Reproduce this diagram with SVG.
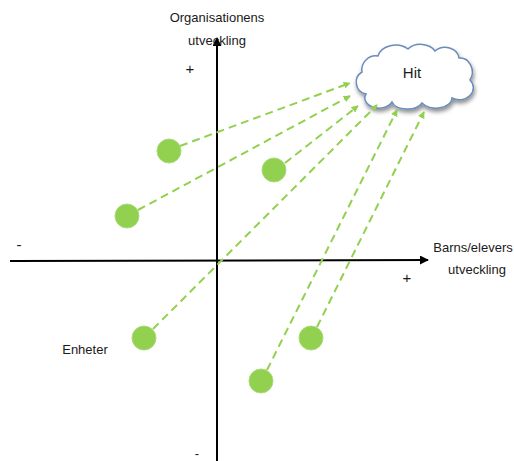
<svg xmlns="http://www.w3.org/2000/svg" width="514" height="461" viewBox="0 0 514 461">
<defs>
<style>
.t{font-family:"Liberation Sans","DejaVu Sans",sans-serif;font-size:13px;fill:#1a1a1a}
.s{font-family:"Liberation Sans","DejaVu Sans",sans-serif;font-size:15px;fill:#1a1a1a}
.ax{stroke:#000;stroke-width:2;fill:none}
.dl{stroke:#92d050;stroke-width:2;stroke-dasharray:8 5;fill:none}
.dot{fill:#92d050;stroke:#a9dc78;stroke-width:1}
</style>
<marker id="ah" viewBox="0 0 10 10" refX="9" refY="5" markerWidth="9" markerHeight="9" markerUnits="userSpaceOnUse" orient="auto">
<path d="M0,0 L10,5 L0,10 Z" fill="#000"/>
</marker>
<marker id="gh" viewBox="0 0 10 10" refX="9" refY="5" markerWidth="7" markerHeight="7" markerUnits="userSpaceOnUse" orient="auto">
<path d="M0,0 L10,5 L0,10 Z" fill="#92d050"/>
</marker>
<filter id="sh" x="-20%" y="-20%" width="140%" height="150%">
<feGaussianBlur in="SourceAlpha" stdDeviation="2"/>
<feOffset dx="1" dy="3" result="b"/>
<feComponentTransfer><feFuncA type="linear" slope="0.45"/></feComponentTransfer>
<feMerge><feMergeNode/><feMergeNode in="SourceGraphic"/></feMerge>
</filter>
</defs>
<rect width="514" height="461" fill="#fff"/>
<g id="axes">
<line class="ax" x1="217" y1="461" x2="217" y2="38" marker-end="url(#ah)"/>
<line class="ax" x1="10" y1="261" x2="428" y2="260" marker-end="url(#ah)"/>
</g>
<g id="labels">
<text class="t" x="217" y="22" text-anchor="middle">Organisationens</text>
<text class="t" x="217" y="45" text-anchor="middle">utveckling</text>
<text class="s" x="190" y="74" text-anchor="middle">+</text>
<text class="t" x="473" y="252" text-anchor="middle">Barns/elevers</text>
<text class="t" x="477" y="274" text-anchor="middle">utveckling</text>
<text class="s" x="407" y="283" text-anchor="middle">+</text>
<text class="s" x="19" y="250" text-anchor="middle">-</text>
<text class="t" x="197" y="458" text-anchor="middle">-</text>
<text class="t" x="85" y="354" text-anchor="middle">Enheter</text>
</g>
<g id="hit">
<path d="M362,72 A14,14 0 0 1 378,56 A18,14 0 0 1 408,49 A16,12 0 0 1 435,51 A14,12 0 0 1 459,58 A12,14 0 0 1 470,80 A14,12 0 0 1 452,98 A16,10 0 0 1 422,103 A16,10 0 0 1 392,102 A14,10 0 0 1 366,94 A12,12 0 0 1 362,72 Z" fill="#fff" stroke="#6a8dba" stroke-width="1.5" filter="url(#sh)"/>
<text x="412" y="78" text-anchor="middle" style="font-family:'Liberation Sans','DejaVu Sans',sans-serif;font-size:15px;fill:#1a1a1a">Hit</text>
</g>
<g id="connectors">
<line class="dl" x1="180" y1="146" x2="350" y2="83" marker-end="url(#gh)"/>
<line class="dl" x1="138" y1="210" x2="350" y2="96" marker-end="url(#gh)"/>
<line class="dl" x1="285" y1="163" x2="358" y2="106" marker-end="url(#gh)"/>
<line class="dl" x1="153" y1="329" x2="377" y2="105" marker-end="url(#gh)"/>
<line class="dl" x1="267" y1="370" x2="397" y2="110" marker-end="url(#gh)"/>
<line class="dl" x1="317" y1="327" x2="424" y2="112" marker-end="url(#gh)"/>
</g>
<g id="unit1"><circle class="dot" cx="169" cy="151" r="12"/></g>
<g id="unit2"><circle class="dot" cx="274" cy="170" r="12"/></g>
<g id="unit3"><circle class="dot" cx="127" cy="216" r="12"/></g>
<g id="unit4"><circle class="dot" cx="144" cy="338" r="12"/></g>
<g id="unit5"><circle class="dot" cx="261" cy="381" r="12"/></g>
<g id="unit6"><circle class="dot" cx="311" cy="338" r="12"/></g>
</svg>
